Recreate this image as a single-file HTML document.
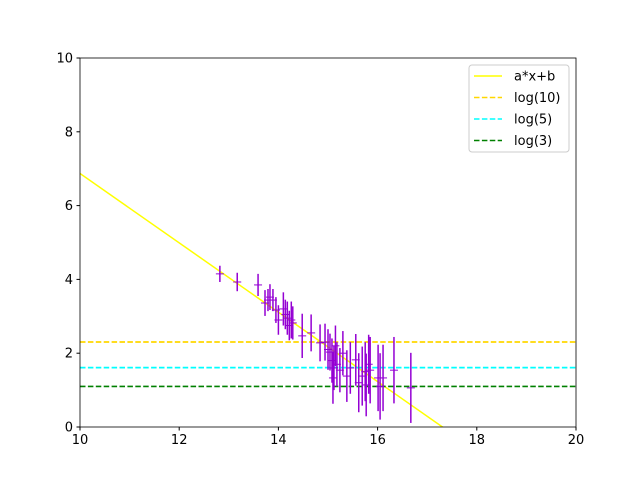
<!DOCTYPE html>
<html><head><meta charset="utf-8"><style>
html,body{margin:0;padding:0;background:#fff;width:640px;height:480px;overflow:hidden;font-family:"DejaVu Sans","Liberation Sans",sans-serif;}
svg{display:block}
svg text{font-family:"DejaVu Sans","Liberation Sans",sans-serif;font-size:13px;fill:#000}
</style></head><body>
<svg id="chart" width="640" height="480" xmlns="http://www.w3.org/2000/svg">
<rect width="640" height="480" fill="#fff"/>
<g id="plot"></g>
</svg>
<script>
const xs=[12.82,13.17,13.59,13.73,13.79,13.83,13.89,13.95,14.0,14.1,14.14,14.18,14.22,14.26,14.29,14.48,14.66,14.84,14.94,15.0,15.04,15.08,15.1,15.12,15.15,15.18,15.24,15.3,15.38,15.45,15.56,15.62,15.69,15.75,15.77,15.82,15.85,16.01,16.05,16.11,16.33,16.67];
const ys=[4.15,3.93,3.85,3.36,3.44,3.52,3.44,3.17,2.9,3.2,3.05,2.95,2.75,2.9,2.82,2.47,2.55,2.28,2.3,2.1,2.03,1.8,1.33,1.6,2.2,1.7,1.54,2.0,1.38,1.6,1.82,1.2,1.38,1.5,1.14,1.7,1.54,1.33,1.1,1.33,1.54,1.06];
const es=[0.22,0.25,0.3,0.35,0.3,0.35,0.3,0.35,0.4,0.45,0.4,0.45,0.4,0.5,0.45,0.6,0.5,0.5,0.5,0.55,0.5,0.6,0.7,0.6,0.55,0.6,0.6,0.6,0.7,0.7,0.7,0.8,0.8,0.8,0.85,0.8,0.9,0.9,0.9,0.9,0.9,0.95];
const slope=-0.94, intercept=16.27;
const hlines=[2.303,1.609,1.099];
const hcolors=["#ffd700","#00ffff","#008000"];
const legendLabels=["a*x+b","log(10)","log(5)","log(3)"];
const xticks=[10,12,14,16,18,20];
const yticks=[0,2,4,6,8,10];
const X0=80,X1=576,Y0=427,Y1=58;
const sx=v=>X0+(v-10)/10*(X1-X0), sy=v=>Y0-(v/10)*(Y0-Y1);
const g=document.getElementById('plot');const NS="http://www.w3.org/2000/svg";
function mk(t,a,p){const e=document.createElementNS(NS,t);for(const k in a)e.setAttribute(k,a[k]);(p||g).appendChild(e);return e;}
const clip=mk('clipPath',{id:'cp'});mk('rect',{x:X0,y:Y1,width:X1-X0,height:Y0-Y1},clip);
const dg=mk('g',{'clip-path':'url(#cp)'});
let l=mk('line',{x1:sx(10),y1:sy(slope*10+intercept),x2:sx(20),y2:sy(slope*20+intercept),stroke:'#ffff00','stroke-width':1.5},dg);


hlines.forEach((v,i)=>{const h=mk('line',{x1:X0,x2:X1,y1:sy(v),y2:sy(v),stroke:hcolors[i],'stroke-width':1.7,'stroke-dasharray':'5.5,2.4'},dg);

});
xs.forEach((x,i)=>{const pg=mk('g',{},dg);


mk('line',{x1:sx(x),x2:sx(x),y1:sy(ys[i]-es[i]),y2:sy(ys[i]+es[i]),stroke:'#9400d3','stroke-width':1.5},pg);
mk('line',{x1:sx(x)-4,x2:sx(x)+4,y1:sy(ys[i]),y2:sy(ys[i]),stroke:'#9400d3','stroke-width':1},pg);});
mk('rect',{x:X0,y:Y1,width:X1-X0,height:Y0-Y1,fill:'none',stroke:'#000','stroke-width':0.8});
xticks.forEach(v=>{mk('line',{x1:sx(v),x2:sx(v),y1:Y0,y2:Y0+3.5,stroke:'#000'});const t=mk('text',{x:sx(v),y:Y0+17,'text-anchor':'middle'});t.textContent=v;

});
yticks.forEach(v=>{mk('line',{x1:X0-3.5,x2:X0,y1:sy(v),y2:sy(v),stroke:'#000'});const t=mk('text',{x:X0-7,y:sy(v)+4.5,'text-anchor':'end'});t.textContent=v;

});
const lg=mk('g',{});


mk('rect',{x:469,y:65,width:100,height:87,rx:3,fill:'#fff',stroke:'#ccc'},lg);
const lc=['#ffff00'].concat(hcolors);
legendLabels.forEach((s,i)=>{const y=76+i*21.5;
mk('line',{x1:474,x2:502,y1:y,y2:y,stroke:lc[i],'stroke-width':1.5,'stroke-dasharray':i?'5.5,2.4':''},lg);
const t=mk('text',{x:514,y:y+4.5},lg);t.textContent=s;

});
</script>
</body></html>
